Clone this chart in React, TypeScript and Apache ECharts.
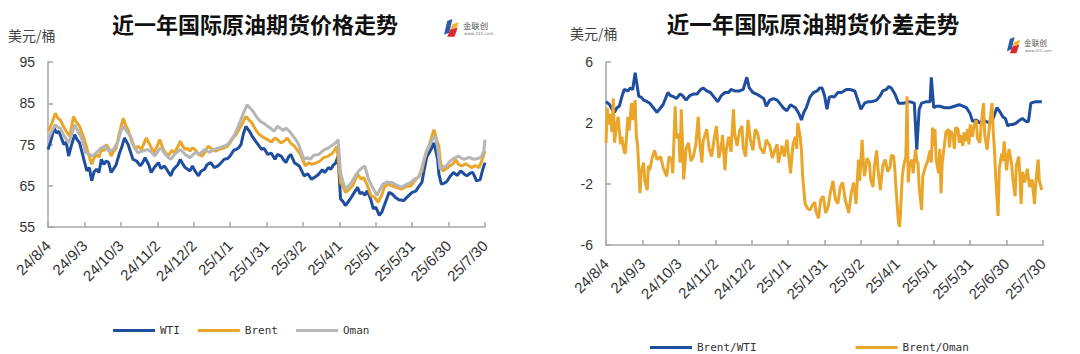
import React, { useEffect, useRef } from "react";
import * as echarts from "echarts";

// ---- data (day offsets from 2024-08-04, values in USD/bbl) ----
const START_DATE = Date.UTC(2024, 7, 4);
const priceTicks = [55, 65, 75, 85, 95];
const spreadTicks = [-6, -2, 2, 6];

const wti: [number, number][] = [
  [0, 73.8], [2, 75.5], [5, 79], [7, 77.8], [9, 78.2], [11, 76.6], [13, 75], [15, 75.6], [17, 72.2], [19, 74.5], [22, 77.4], [24, 76.2], [26, 75.4], [29, 72], [32, 68.6],
  [34, 69.4], [36, 66.2], [38, 68.4], [40, 69], [42, 68.2], [44, 71.4], [46, 70.2], [48, 71], [50, 70.6], [52, 68.2], [54, 69.1], [56, 70], [59, 73], [61, 74.6], [63, 76.6], [66, 75], [68, 73.2], [70, 71.4],
  [73, 71], [76, 69.8], [78, 70.6], [80, 71.8], [83, 70.1], [85, 68.2], [88, 69.6], [91, 70.6], [93, 69.2], [96, 69.8], [99, 68.4], [101, 67.4], [103, 68.8], [105, 69.5], [107, 70.1], [109, 71.4], [111, 70.3], [113, 69.4],
  [117, 68.6], [119, 69.8], [121, 68.6], [124, 67.4], [126, 68.5], [129, 69], [131, 70.1], [134, 70.6], [137, 69.4], [140, 69.8], [143, 70.7], [145, 71.4], [148, 71.6], [150, 72.2], [153, 73.6], [155, 73.8], [157, 74.2], [159, 75],
  [161, 77.6], [163, 79.4], [166, 78.2], [168, 77.1], [171, 75.8], [174, 74.6], [176, 73.8], [178, 74.1], [181, 72.6], [184, 72.9], [187, 71.4], [189, 72.6], [192, 72.2], [194, 71.3], [196, 70.6], [198, 71.9], [200, 72.6], [203, 70.6],
  [207, 69.8], [209, 68.6], [211, 67.4], [214, 67.9], [217, 66.6], [220, 67.1], [223, 67.8], [226, 68.9], [228, 68.2], [231, 69.4], [233, 69], [235, 70], [237, 70.5], [239, 72.2], [241, 61.8], [243, 61.2], [245, 60.2],
  [247, 61], [249, 61.8], [252, 63.2], [255, 64.6], [257, 63.1], [259, 63.4], [261, 62.7], [263, 63.8], [266, 61.6], [268, 59.4], [270, 59.8], [273, 57.8], [275, 58.6], [277, 60.2], [279, 61.8], [281, 63.4], [284, 62.9], [286, 62.2], [289, 61.6], [293, 61.4],
  [296, 62.3], [300, 63.4], [303, 63.7], [305, 64.6], [308, 65.8], [310, 69], [312, 72], [314, 73], [316, 74.1], [318, 75.4], [321, 71.4], [322, 67.9], [324, 65.4], [327, 65.7], [329, 66.2], [331, 67.2], [334, 68.2], [337, 67.5], [340, 68.6],
  [343, 67.8], [345, 67.4], [348, 68.1], [350, 68.2], [352, 66.9], [353, 66.2], [356, 66.5], [358, 68.8], [360, 70.6],
];

const brent: [number, number][] = [
  [0, 78.2], [3, 80], [6, 82.6], [8, 81.4], [10, 81], [12, 79.8], [15, 78.2], [18, 77], [21, 81.8], [23, 80.6], [26, 79.4], [28, 77.8], [30, 76.2], [33, 73],
  [36, 70.2], [38, 71.8], [40, 72.5], [42, 71.9], [44, 74.2], [46, 73.4], [48, 75], [50, 74], [52, 72.2], [54, 73.3], [56, 74], [59, 78], [62, 81.4], [64, 79.6], [66, 78.6], [69, 75.6], [72, 73.8],
  [74, 74.6], [77, 73.8], [79, 75.2], [81, 76.6], [84, 74.9], [87, 73], [90, 74.6], [92, 76.2], [95, 73.8], [99, 72.2], [102, 73.6], [104, 73], [107, 74.5], [109, 75.8], [111, 74.6], [113, 73.8], [115, 74.1], [117, 73.4], [119, 74.2], [121, 73.8],
  [124, 72.6], [127, 72.2], [130, 73.5], [132, 74.6], [135, 73.9], [138, 73.4], [141, 73.8], [145, 74.2], [148, 74.6], [150, 75.4], [152, 76.4], [155, 77.4], [158, 79], [161, 80.6], [163, 81.8], [165, 81.1], [168, 80.2], [171, 78.6], [174, 77.4],
  [177, 76.8], [181, 76.2], [184, 75.6], [187, 76.6], [190, 75.9], [192, 75.4], [195, 75.9], [197, 76.6], [200, 75.3], [203, 74.6], [206, 73.4], [208, 72.6], [210, 71.2], [212, 69.8], [215, 70.6], [217, 70.2], [220, 70.4], [224, 71], [227, 71.8], [231, 72.2],
  [234, 72.8], [236, 73.6], [238, 74.6], [241, 65.8], [243, 64.8], [245, 63.4], [248, 64.1], [251, 65], [253, 66.4], [255, 67.8], [258, 66.6], [260, 67], [263, 65.2], [266, 62.6], [269, 62.2], [272, 61], [275, 62.8], [277, 64.6],
  [280, 65.4], [283, 65], [287, 64.6], [291, 64.2], [295, 64.8], [299, 65], [302, 66.2], [306, 67.4], [308, 68.6], [310, 71.4], [312, 73.3], [314, 74.6], [316, 76.8], [318, 78.6], [320, 76.3], [322, 74.6], [323, 71.2], [325, 68.6], [328, 69.1], [331, 69.8],
  [334, 70.4], [336, 71.4], [338, 70.2], [341, 69.8], [344, 70.3], [347, 69.8], [349, 69.4], [352, 69.9], [355, 69.4], [357, 70.8], [360, 73.4],
];

const oman: [number, number][] = [
  [0, 76.2], [3, 78.2], [6, 79.8], [8, 79.2], [10, 79], [13, 77.2], [17, 75.4], [20, 77.8], [22, 79.8], [25, 78], [27, 77], [29, 75.2], [31, 73], [34, 72.6], [37, 72.2], [40, 73.1], [44, 74.2], [47, 74.6], [50, 73.4],
  [54, 73.8], [58, 76], [60, 78.2], [62, 79.4], [65, 78.1], [68, 77], [71, 74.6], [74, 73], [78, 73.4], [82, 73.8], [85, 73.2], [88, 72.2], [91, 73.6], [93, 74.2], [97, 72.4], [101, 71.4], [105, 72.8], [109, 73.8],
  [113, 72.6], [117, 71.8], [121, 73], [125, 72.7], [129, 73.8], [133, 73.1], [137, 73.8], [141, 74.2], [145, 74.6], [148, 75], [150, 75.8], [153, 77], [155, 78.2], [158, 80.4], [161, 82.6], [164, 84.6], [166, 84], [169, 83], [172, 81.6], [175, 80.6],
  [178, 80.1], [181, 79.4], [184, 78.8], [186, 78.2], [189, 79.4], [191, 79], [194, 78.4], [196, 79], [199, 78.2], [202, 77], [205, 75.8], [207, 74.6], [209, 72.9], [211, 71.4], [214, 71.8], [216, 71.4], [219, 72.4], [223, 72.6], [227, 73.6], [231, 74.2],
  [235, 75], [237, 75.4], [239, 76.2], [241, 68.2], [243, 66], [245, 64.2], [248, 65.1], [250, 65.8], [253, 67.4], [255, 68.2], [258, 69.2], [261, 69.8], [264, 66.6], [267, 64.8], [271, 62.6], [273, 63.9], [276, 65.4], [279, 65.9],
  [283, 65.8], [287, 65.2], [291, 64.6], [295, 65.3], [299, 65.8], [302, 66.6], [305, 67], [307, 68.4], [309, 70.6], [312, 73.6], [315, 75.4], [317, 76.3], [319, 77], [321, 74.2], [323, 69], [326, 69.6], [328, 69.8], [331, 70.9], [334, 71.6], [338, 72.2],
  [341, 71.6], [343, 71.4], [347, 71.9], [351, 71.4], [354, 71.6], [357, 72], [359, 73.4], [360, 76.2],
];

const brentWti: [number, number][] = [
  [0, 3.4], [3, 3.2], [5, 2.9], [7, 2.7], [9, 3.0], [11, 3.1], [13, 3.7], [15, 4.2], [18, 4.1], [20, 4.3], [22, 4.2], [24, 5.3], [27, 3.75], [29, 3.7], [31, 3.5], [34, 3.4], [36, 3.3],
  [39, 3.0], [42, 2.7], [44, 2.9], [47, 3.2], [49, 3.6], [51, 4.0], [53, 3.8], [55, 3.75], [58, 3.6], [61, 3.9], [63, 3.8], [66, 3.5], [69, 3.8], [72, 3.9], [75, 3.9], [78, 4.2], [80, 4.3], [83, 4.1], [86, 4.0], [89, 3.7], [92, 3.4],
  [95, 3.8], [98, 4.0], [101, 4.0], [103, 4.2], [106, 4.1], [110, 4.1], [113, 4.2], [116, 5.0], [118, 4.3], [121, 4.0], [124, 3.9], [127, 3.75], [130, 3.6], [132, 3.1], [135, 3.5], [138, 3.6], [141, 3.5], [143, 3.3], [146, 3.0], [149, 2.8],
  [152, 3.2], [156, 3.0], [159, 2.6], [161, 2.2], [163, 2.7], [165, 3.0], [168, 3.7], [171, 4.0], [174, 4.1], [176, 4.3], [178, 4.3], [180, 3.8], [182, 2.9], [184, 3.7], [186, 3.75], [188, 3.7], [191, 4.0], [194, 4.0], [198, 4.2], [201, 4.2], [205, 4.1],
  [207, 3.6], [210, 2.9], [213, 3.3], [216, 3.4], [219, 3.4], [223, 3.5], [226, 3.8], [228, 4.1], [231, 4.2], [233, 4.4], [235, 4.3], [238, 3.9], [241, 3.3], [245, 3.3], [250, 3.4], [254, 3.3], [256, 0.25],
  [258, 2.9], [260, 3.3], [264, 3.4], [267, 3.4], [268, 5.0], [270, 3.0], [272, 3.1], [275, 3.1], [279, 3.0], [283, 3.0], [287, 3.1], [291, 3.2], [294, 3.1], [297, 3.0], [300, 2.6], [302, 2.1], [305, 2.2], [308, 2.0], [310, 2.2], [313, 2.1],
  [316, 2.0], [319, 2.3], [322, 3.0], [324, 2.8], [327, 2.4], [329, 2.3], [331, 1.8], [333, 1.9], [335, 1.9], [338, 2.0], [341, 2.2], [343, 2.3], [346, 2.1], [348, 2.1], [350, 3.3], [354, 3.4], [359, 3.4],
];

const brentOman: [number, number][] = [
  [0, 0.7], [1, 3.0], [2, 1.9], [3, 2.6], [5, 1.4], [6, 3.6], [7, 0.7], [9, 2.0], [10, 2.4], [12, 0.6], [13, 1.1], [15, 0.1], [16, 0.0], [18, 2.4], [19, 1.5],
  [21, 3.3], [22, 2.2], [24, 3.5], [25, 1.1], [26, 0.6], [28, -2.6], [29, -1.2], [31, -0.6], [32, -1.8], [34, -2.4], [35, -0.8], [36, -1.1], [38, -0.3], [40, 0.2],
  [42, -0.4], [45, -0.2], [47, -0.9], [50, -1.5], [52, -0.2], [54, -0.4], [55, -1.3], [57, 3.1], [58, 1.0], [60, 1.3], [61, -0.6], [62, 2.9], [63, 0.8], [64, -1.7],
  [66, 0.3], [68, 0.7], [70, -0.5], [72, -0.2], [74, 0.6], [76, 2.4], [77, 0.9], [79, -0.6], [80, 0.8], [83, 1.6], [85, 0.3], [87, -0.2], [89, 0.9], [91, 1.8],
  [93, -0.3], [95, 0.5], [96, 1.2], [98, -1.1], [99, 0.2], [101, 1.1], [103, 0.1], [105, 2.9], [106, 1.3], [108, 0.5], [110, 1.5], [112, 1.8], [113, 0.4], [115, -0.2],
  [116, 1.0], [117, 2.2], [119, 0.9], [121, 0.2], [123, 1.6], [125, 1.3], [127, 0.4], [130, 0.0], [132, 0.9], [135, 0.5], [137, -0.3], [139, 0.2], [141, 0.6], [142, -0.6],
  [144, 0.1], [145, 0.5], [147, -0.2], [149, 0.9], [150, 0.2], [152, -1.3], [154, 0.6], [156, 1.1], [157, 0.3], [158, 2.0], [160, 1.1], [161, 0.2], [162, -1.5], [164, -3.3],
  [166, -3.6], [168, -3.7], [170, -3.4], [172, -3.2], [173, -3.8], [175, -4.25], [177, -3.0], [179, -2.8], [181, -3.9], [183, -3.5], [185, -2.5], [187, -1.8], [189, -3.0],
  [191, -3.3], [193, -2.2], [195, -1.9], [197, -3.0], [200, -3.9], [202, -2.6], [204, -1.9], [206, -3.3], [208, -0.4], [209, -1.8], [211, 0.9], [212, -0.6], [213, -1.5],
  [215, -0.3], [217, -0.6], [218, -1.7], [220, -2.2], [221, -0.9], [223, 0.2], [224, -1.0], [226, -2.4], [228, -0.8], [230, -0.4], [232, -1.2], [234, -0.9], [235, -0.1],
  [237, -0.2], [238, -1.1], [239, -2.4], [241, -4.6], [242, -4.8], [244, -1.6], [245, -0.9], [247, -0.2], [248, 3.75], [249, -1.9], [250, -0.8], [252, -0.4], [253, -1.3],
  [255, 0.25], [256, -0.5], [257, -0.6], [258, -2.2], [260, -3.7], [261, -1.5], [263, -0.9], [265, -0.5], [267, 0.2], [268, -0.6], [269, 1.7], [270, 0.5], [271, 1.6],
  [272, -0.4], [274, -1.3], [275, 0.3], [276, -2.6], [277, -0.6], [279, 0.7], [280, 1.4], [282, 1.6], [283, 0.4], [284, 1.5], [286, 1.1], [287, 0.3], [288, 1.7], [290, 1.6],
  [291, 0.7], [292, 1.2], [294, 0.5], [295, 1.4], [296, 0.8], [298, 1.6], [299, 0.6], [300, 1.9], [302, 1.1], [303, 1.8], [305, 2.2], [306, 1.0], [308, 0.7], [309, 1.8],
  [311, 3.3], [312, 1.2], [314, 0.25], [316, 1.9], [318, 3.3], [319, 1.5], [320, 0.25], [321, -1.5], [323, -4.1], [324, -1.0], [326, 0.0], [327, -0.5], [328, 0.8],
  [330, -1.1], [332, 0.3], [334, -0.6], [335, -1.5], [337, -2.8], [338, -0.8], [340, -0.2], [341, -1.5], [342, -3.3], [343, -1.2], [345, -1.9], [347, -1.0], [349, -2.2],
  [351, -1.7], [353, -3.3], [354, -2.0], [356, -0.4], [357, -1.8], [359, -2.4],
];

const leftTitle = "近一年国际原油期货价格走势";
const rightTitle = "近一年国际原油期货价差走势";
const unitLabel = "美元/桶";

const BLUE = "#1F4E9E";
const ORANGE = "#E9A62B";
const GRAY = "#B6B6B6";
const AXIS = "#A6A6A6";

function fmtDay(v: number): string {
  const dt = new Date(START_DATE + Math.round(v) * 86400000);
  return `${dt.getUTCFullYear() % 100}/${dt.getUTCMonth() + 1}/${dt.getUTCDate()}`;
}

function logo(x: number, y: number, s: number) {
  return {
    type: "group",
    x,
    y,
    scaleX: s,
    scaleY: s,
    children: [
      { type: "polygon", shape: { points: [[4, 2], [9, 0], [6, 13], [1, 15]] }, style: { fill: "#2A5CAA" } },
      { type: "polygon", shape: { points: [[9, 5], [15, 3], [13, 8], [7, 10]] }, style: { fill: "#F2B233" } },
      { type: "polygon", shape: { points: [[7, 10], [14, 8], [11, 17], [4, 17]] }, style: { fill: "#D92B2B" } },
      { type: "text", x: 19, y: 2, style: { text: "金联创", font: "8px 'Noto Sans CJK SC'", fill: "#555" } },
      { type: "text", x: 20, y: 12, style: { text: "www.315.com", font: "4px 'DejaVu Sans'", fill: "#777" } },
    ],
  };
}

export default function App() {
  const ref = useRef<HTMLDivElement>(null);
  useEffect(() => {
    document.body.style.margin = "0";
    if (!ref.current) return;
    const chart = echarts.init(ref.current, null, { renderer: "svg" });

    const xAxisBase = (gridIndex: number) => ({
      type: "value",
      gridIndex,
      min: 0,
      max: 360,
      interval: 30,
      axisLine: { show: true, onZero: false, lineStyle: { color: AXIS, width: 1.5 } },
      axisTick: { show: true, inside: true, length: 5, lineStyle: { color: AXIS, width: 1.5 } },
      splitLine: { show: false },
      axisLabel: {
        rotate: 45,
        margin: 16,
        formatter: (v: number) => fmtDay(v),
        fontFamily: "Liberation Sans",
        fontSize: 15,
        color: "#333",
      },
    });

    const yAxisBase = (gridIndex: number, min: number, max: number, ticks: number[]) => ({
      type: "value",
      gridIndex,
      min,
      max,
      axisLine: { show: true, lineStyle: { color: AXIS, width: 1.5 } },
      axisTick: { show: true, inside: true, length: 5, customValues: ticks, lineStyle: { color: AXIS, width: 1.5 } },
      splitLine: { show: false },
      axisLabel: {
        customValues: ticks,
        margin: 13,
        fontFamily: "Liberation Sans",
        fontSize: 14,
        color: "#333",
      },
    });

    const line = (name: string, data: [number, number][], color: string, idx: number) => ({
      name,
      type: "line",
      xAxisIndex: idx,
      yAxisIndex: idx,
      data,
      symbol: "none",
      lineStyle: { width: 3, color },
      itemStyle: { color },
    });

    const legendBase = {
      icon: "rect",
      itemWidth: 42,
      itemHeight: 3,
      textStyle: { fontFamily: "DejaVu Sans Mono", fontSize: 11, color: "#333" },
    };

    chart.setOption({
      animation: false,
      backgroundColor: "#fff",
      grid: [
        { left: 48, right: 595, top: 62, bottom: 127 },
        { left: 606, right: 37, top: 62, bottom: 109 },
      ],
      xAxis: [xAxisBase(0), xAxisBase(1)],
      yAxis: [yAxisBase(0, 55, 95, priceTicks), yAxisBase(1, -6, 6, spreadTicks)],
      legend: [
        { ...legendBase, data: ["WTI", "Brent", "Oman"], left: 108, top: 320, itemGap: 18 },
        { ...legendBase, data: ["Brent/WTI", "Brent/Oman"], left: 645, top: 337, itemGap: 99 },
      ],
      series: [
        line("WTI", wti, BLUE, 0),
        line("Brent", brent, ORANGE, 0),
        line("Oman", oman, GRAY, 0),
        line("Brent/WTI", brentWti, BLUE, 1),
        line("Brent/Oman", brentOman, ORANGE, 1),
      ],
      graphic: [
        {
          type: "text",
          x: 255,
          y: 23,
          style: {
            text: leftTitle,
            font: "bold 22px 'Noto Sans CJK SC'",
            fill: "#111",
            textAlign: "center",
            textVerticalAlign: "middle",
          },
        },
        {
          type: "text",
          x: 813,
          y: 23,
          style: {
            text: rightTitle,
            font: "bold 22.5px 'Noto Sans CJK SC'",
            fill: "#111",
            textAlign: "center",
            textVerticalAlign: "middle",
          },
        },
        {
          type: "text",
          x: 8,
          y: 35,
          style: { text: unitLabel, font: "14px 'Noto Sans CJK SC'", fill: "#444", textVerticalAlign: "middle" },
        },
        {
          type: "text",
          x: 570,
          y: 33,
          style: { text: unitLabel, font: "14px 'Noto Sans CJK SC'", fill: "#444", textVerticalAlign: "middle" },
        },
        logo(443, 19, 1.05),
        logo(1006, 37, 0.95),
      ],
    });
    return () => chart.dispose();
  }, []);
  return <div ref={ref} style={{ width: 1080, height: 354 }} />;
}
